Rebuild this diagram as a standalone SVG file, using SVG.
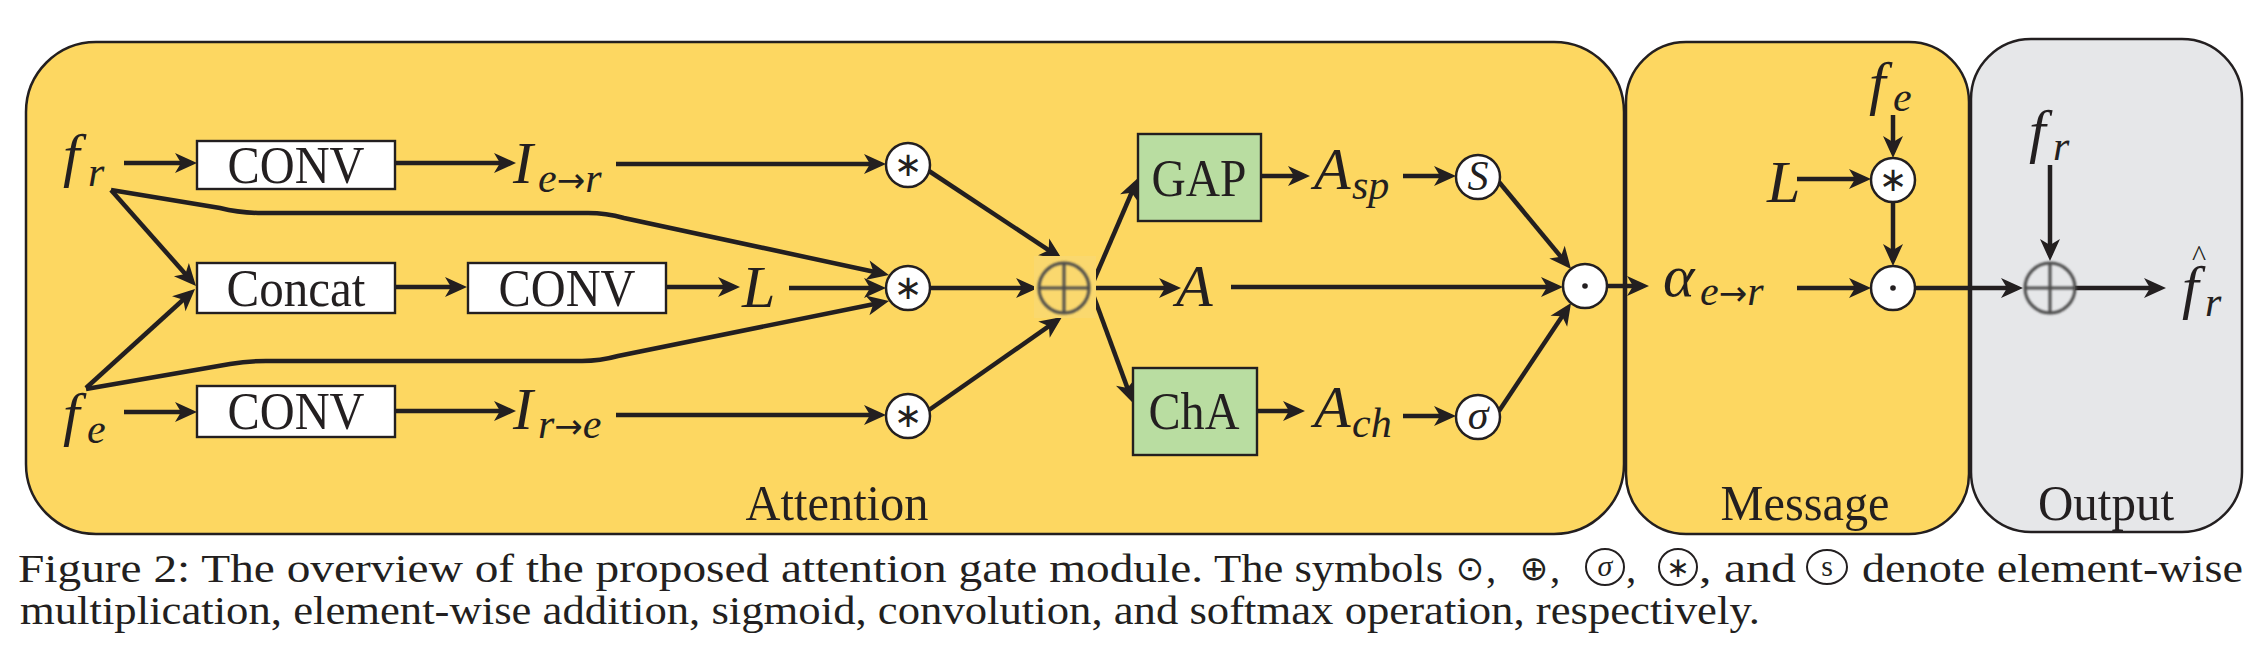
<svg xmlns="http://www.w3.org/2000/svg" width="2264" height="664" viewBox="0 0 2264 664">
<defs>
<style>
.panel{stroke:#231F20;stroke-width:2.5}
.yel{fill:#FDD761}
.gray{fill:#E6E7E9}
.box{fill:#FFFFFF;stroke:#231F20;stroke-width:2.4}
.gbox{fill:#B9DDA1;stroke:#231F20;stroke-width:2.4}
.btxt{font-family:"Liberation Serif",serif;font-size:52px;fill:#231F20;text-anchor:middle}
.ptxt{font-family:"Liberation Serif",serif;font-size:50px;fill:#231F20;text-anchor:middle}
.m{font-family:"Liberation Serif","DejaVu Serif",serif;font-style:italic;font-size:60px;fill:#231F20}
.sub{font-family:"Liberation Serif","DejaVu Serif",serif;font-style:italic;font-size:42px;fill:#231F20}
.arr{font-family:"DejaVu Sans",sans-serif;font-style:normal;font-size:34px}
.op{fill:#FFFFFF;stroke:#231F20;stroke-width:2.5}
.ast{font-family:"DejaVu Sans",sans-serif;font-size:34px;fill:#231F20;text-anchor:middle}
.add{fill:none;stroke:#4A4A4A;stroke-width:3}
.c{fill:none;stroke:#231F20;stroke-width:4.5}
.cap{font-family:"Liberation Serif",serif;font-size:41px;fill:#231F20}
.capc{fill:none;stroke:#231F20;stroke-width:2}
</style>
<marker id="ah" viewBox="-18 -11 26 22" refX="0" refY="0" markerWidth="26" markerHeight="22" markerUnits="userSpaceOnUse" orient="auto">
<path d="M6,0 L-16,-10 L-10,0 L-16,10 Z" fill="#231F20"/>
</marker>
<filter id="soft" x="-20%" y="-20%" width="140%" height="140%"><feGaussianBlur stdDeviation="1.1"/></filter>
</defs>

<g id="panels">
<rect id="attention-panel" class="panel yel" x="26" y="42" width="1598" height="492" rx="70" ry="70"/>
<rect id="message-panel" class="panel yel" x="1626" y="42" width="343" height="492" rx="60" ry="60"/>
<rect id="output-panel" class="panel gray" x="1971" y="39" width="271" height="493" rx="60" ry="60"/>
<text class="ptxt" x="837" y="520" textLength="183" lengthAdjust="spacingAndGlyphs">Attention</text>
<text class="ptxt" x="1805" y="520" textLength="169" lengthAdjust="spacingAndGlyphs">Message</text>
<text class="ptxt" x="2106" y="520" textLength="136" lengthAdjust="spacingAndGlyphs">Output</text>
</g>

<g id="connectors">
<path class="c" d="M124,163 H191" marker-end="url(#ah)"/>
<path class="c" d="M395,163 H510" marker-end="url(#ah)"/>
<path class="c" d="M616,164 H880" marker-end="url(#ah)"/>
<path class="c" d="M111,190 L192,281.5" marker-end="url(#ah)"/>
<path class="c" d="M86,388 L190.6,293" marker-end="url(#ah)"/>
<path class="c" d="M395,287 H461" marker-end="url(#ah)"/>
<path class="c" d="M666,287 H734" marker-end="url(#ah)"/>
<path class="c" d="M789,288 H880" marker-end="url(#ah)"/>
<path class="c" d="M111,190 L220,208 Q240,213 262,213 L588,213 Q606,213 624,218 L883.1,273.7" marker-end="url(#ah)"/>
<path class="c" d="M86,389 L230,364 Q248,361 266,361 L582,361 Q600,361 618,356 L883.1,302.2" marker-end="url(#ah)"/>
<path class="c" d="M124,412 H191" marker-end="url(#ah)"/>
<path class="c" d="M395,411 H510" marker-end="url(#ah)"/>
<path class="c" d="M616,415 H880" marker-end="url(#ah)"/>
<path class="c" d="M929,171 L1057,255.7" marker-end="url(#ah)"/>
<path class="c" d="M929,410 L1057.1,320.4" marker-end="url(#ah)"/>
<path class="c" d="M930,288 H1032" marker-end="url(#ah)"/>
<path class="c" d="M1091,287 L1135.6,183.5" marker-end="url(#ah)"/>
<path class="c" d="M1091,288 H1175" marker-end="url(#ah)"/>
<path class="c" d="M1091,289 L1130.9,397.4" marker-end="url(#ah)"/>
<path class="c" d="M1261,176 H1304" marker-end="url(#ah)"/>
<path class="c" d="M1403,176 H1450" marker-end="url(#ah)"/>
<path class="c" d="M1257,411 H1299" marker-end="url(#ah)"/>
<path class="c" d="M1403,416 H1450" marker-end="url(#ah)"/>
<path class="c" d="M1231,287 H1557" marker-end="url(#ah)"/>
<path class="c" d="M1499,182 L1567.2,264.4" marker-end="url(#ah)"/>
<path class="c" d="M1499,411 L1567.7,308" marker-end="url(#ah)"/>
<path class="c" d="M1607,286 H1643" marker-end="url(#ah)"/>
<path class="c" d="M1797,288 H1865" marker-end="url(#ah)"/>
<path class="c" d="M1797,179 H1865" marker-end="url(#ah)"/>
<path class="c" d="M1893,115 V152" marker-end="url(#ah)"/>
<path class="c" d="M1893,202 V260" marker-end="url(#ah)"/>
<path class="c" d="M1915,288 H2017" marker-end="url(#ah)"/>
<path class="c" d="M2050,165 V255" marker-end="url(#ah)"/>
<path class="c" d="M2075,288 H2160" marker-end="url(#ah)"/>
</g>

<g id="in-fr"><text class="m" x="63" y="175">f</text><text class="sub" x="88" y="186">r</text></g>
<g id="in-fe"><text class="m" x="63" y="434">f</text><text class="sub" x="87" y="443">e</text></g>

<g id="conv1"><rect class="box" x="197" y="141" width="198" height="48"/><text class="btxt" x="296" y="183" textLength="137" lengthAdjust="spacingAndGlyphs">CONV</text></g>
<g id="concat"><rect class="box" x="197" y="263" width="198" height="50"/><text class="btxt" x="296" y="306" textLength="139" lengthAdjust="spacingAndGlyphs">Concat</text></g>
<g id="conv2"><rect class="box" x="468" y="263" width="198" height="50"/><text class="btxt" x="567" y="306" textLength="137" lengthAdjust="spacingAndGlyphs">CONV</text></g>
<g id="conv3"><rect class="box" x="197" y="386" width="198" height="51"/><text class="btxt" x="296" y="429" textLength="137" lengthAdjust="spacingAndGlyphs">CONV</text></g>

<g id="I-er"><text class="m" x="513" y="183">I</text><text class="sub" x="538" y="192" font-size="40">e<tspan class="arr">→</tspan>r</text></g>
<g id="L-att"><text class="m" x="742" y="307">L</text></g>
<g id="I-re"><text class="m" x="513" y="429">I</text><text class="sub" x="538" y="438" font-size="40">r<tspan class="arr">→</tspan>e</text></g>

<g id="conv-star1"><circle class="op" cx="908" cy="165" r="22"/><text class="ast" x="908" y="176">∗</text></g>
<g id="conv-star2"><circle class="op" cx="908" cy="288" r="22"/><text class="ast" x="908" y="299">∗</text></g>
<g id="conv-star3"><circle class="op" cx="908" cy="416" r="22"/><text class="ast" x="908" y="427">∗</text></g>

<g id="add-att">
<rect x="1034" y="256" width="62" height="62" fill="#FAD86E"/>
<g filter="url(#soft)"><circle class="add" cx="1064" cy="288" r="25"/><path class="add" d="M1039,288 H1089 M1064,263 V313"/></g>
</g>

<g id="gap"><rect class="gbox" x="1138" y="134" width="123" height="87"/><text class="btxt" x="1199" y="196" textLength="95" lengthAdjust="spacingAndGlyphs">GAP</text></g>
<g id="cha"><rect class="gbox" x="1133" y="368" width="124" height="87"/><text class="btxt" x="1194" y="429" textLength="91" lengthAdjust="spacingAndGlyphs">ChA</text></g>

<g id="A-sp"><text class="m" x="1314" y="189">A</text><text class="sub" x="1352" y="199">sp</text></g>
<g id="A-main"><text class="m" x="1176" y="306">A</text></g>
<g id="A-ch"><text class="m" x="1314" y="427">A</text><text class="sub" x="1352" y="437">ch</text></g>

<g id="softmax"><circle class="op" cx="1478" cy="177" r="22"/><text class="sub" x="1478" y="190" font-size="38" text-anchor="middle">S</text></g>
<g id="sigmoid"><circle class="op" cx="1478" cy="417" r="22"/><text class="sub" x="1478" y="429" font-size="40" text-anchor="middle">σ</text></g>
<g id="mul-att"><circle class="op" cx="1585" cy="286" r="22"/><circle cx="1585" cy="286" r="2.8" fill="#231F20"/></g>

<g id="alpha"><text class="m" x="1663" y="296">α</text><text class="sub" x="1700" y="305" font-size="40">e<tspan class="arr">→</tspan>r</text></g>
<g id="L-msg"><text class="m" x="1767" y="202">L</text></g>
<g id="fe-msg"><text class="m" x="1869" y="103">f</text><text class="sub" x="1893" y="111">e</text></g>
<g id="conv-msg"><circle class="op" cx="1893" cy="180" r="22"/><text class="ast" x="1893" y="191">∗</text></g>
<g id="mul-msg"><circle class="op" cx="1893" cy="288" r="22"/><circle cx="1893" cy="288" r="2.8" fill="#231F20"/></g>

<g id="fr-out"><text class="m" x="2029" y="151">f</text><text class="sub" x="2053" y="160">r</text></g>
<g id="add-out"><g filter="url(#soft)"><circle class="add" cx="2050" cy="288" r="25"/><path class="add" d="M2025,288 H2075 M2050,263 V313"/></g></g>
<g id="fhat"><text x="2192" y="266" font-family="Liberation Serif,serif" font-size="30" fill="#231F20">^</text><text class="m" x="2182" y="307">f</text><text class="sub" x="2205" y="316">r</text></g>

<g id="caption">
<text class="cap" x="18" y="582" textLength="1185" lengthAdjust="spacingAndGlyphs">Figure 2:  The overview of the proposed attention gate module.</text>
<text class="cap" x="1214" y="582" textLength="229" lengthAdjust="spacingAndGlyphs">The symbols</text>
<text x="1470" y="580" font-family="DejaVu Sans,sans-serif" font-size="34" fill="#231F20" text-anchor="middle">⊙</text>
<text class="cap" x="1486" y="582">,</text>
<text x="1534" y="580" font-family="DejaVu Sans,sans-serif" font-size="34" fill="#231F20" text-anchor="middle">⊕</text>
<text class="cap" x="1550" y="582">,</text>
<ellipse class="capc" cx="1605" cy="567" rx="19" ry="18"/>
<text x="1605" y="576" font-family="Liberation Serif,serif" font-style="italic" font-size="30" fill="#231F20" text-anchor="middle">σ</text>
<text class="cap" x="1626" y="582">,</text>
<ellipse class="capc" cx="1678" cy="567" rx="19" ry="18"/>
<text x="1678" y="577" font-family="DejaVu Sans,sans-serif" font-size="28" fill="#231F20" text-anchor="middle">∗</text>
<text class="cap" x="1699" y="582" textLength="97" lengthAdjust="spacingAndGlyphs">, and</text>
<ellipse class="capc" cx="1827" cy="567" rx="20" ry="17"/>
<text x="1827" y="576" font-family="Liberation Serif,serif" font-size="30" fill="#231F20" text-anchor="middle">s</text>
<text class="cap" x="1862" y="582" textLength="381" lengthAdjust="spacingAndGlyphs">denote element-wise</text>
<text class="cap" x="20" y="624" textLength="1740" lengthAdjust="spacingAndGlyphs">multiplication, element-wise addition, sigmoid, convolution, and softmax operation, respectively.</text>
</g>
</svg>
